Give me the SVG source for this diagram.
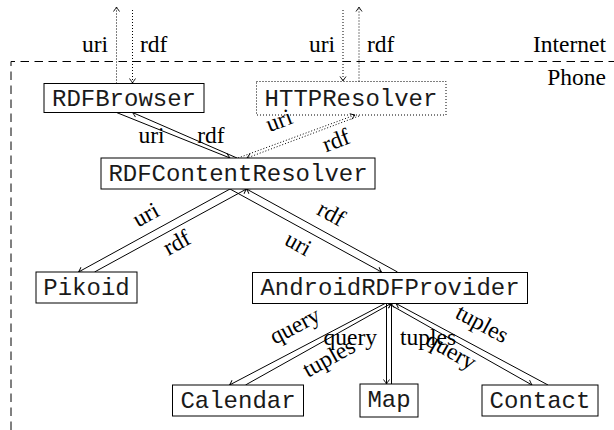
<svg xmlns="http://www.w3.org/2000/svg" width="614" height="430" viewBox="0 0 614 430">
<style>
.box{fill:#fff;stroke:#000;stroke-width:1}
.dbox{fill:none;stroke:#000;stroke-width:1;stroke-dasharray:1 2}
.mono{font-family:"Liberation Mono","DejaVu Sans Mono",monospace;font-size:24px;fill:#1a1a1a;text-anchor:middle}
.lbl{font-family:"Liberation Serif","DejaVu Serif",serif;font-size:23.5px;fill:#000}
.c{stroke:#000;stroke-width:1;fill:none;marker-end:url(#ah)}
.dot{stroke-dasharray:1 2}
.frame{fill:none;stroke:#000;stroke-width:1;stroke-dasharray:8.5 5.5}
</style>
<defs>
<marker id="ah" markerUnits="userSpaceOnUse" markerWidth="10" markerHeight="10" viewBox="-6 -5 8 10" refX="0" refY="0" orient="auto">
<path d="M-4.5,-3 Q-1.2,-0.6 0,0 Q-1.2,0.6 -4.5,3" fill="none" stroke="#000" stroke-width="0.9"/>
</marker>
</defs>
<rect width="614" height="430" fill="#fff"/>
<g id="frame">
<path class="frame" d="M11,430 V61.5 H614"/>
<text class="lbl" x="606" y="52" text-anchor="end">Internet</text>
<text class="lbl" x="606" y="85" text-anchor="end">Phone</text>
</g>
<g id="connectors">
<path class="c dot" d="M116.5,83.5 V7"/>
<path class="c dot" d="M132.5,10 V83"/>
<path class="c dot" d="M343,10 V81"/>
<path class="c dot" d="M359,81.5 V7"/>
<text class="lbl" x="108" y="52" text-anchor="end">uri</text>
<text class="lbl" x="140" y="52">rdf</text>
<text class="lbl" x="335" y="52" text-anchor="end">uri</text>
<text class="lbl" x="367" y="52">rdf</text>

<path class="c" d="M116.5,112.5 L230,158"/>
<path class="c" d="M237,158 L132.5,112.5"/>
<text class="lbl" x="151.5" y="143" text-anchor="middle">uri</text>
<text class="lbl" x="211" y="143" text-anchor="middle">rdf</text>

<path class="c dot" d="M238,158 L355,115"/>
<path class="c dot" d="M359,116 L247,158"/>
<text class="lbl" text-anchor="middle" transform="translate(280,123) rotate(-21)" y="5">uri</text>
<text class="lbl" text-anchor="middle" transform="translate(337,143) rotate(-21)" y="5">rdf</text>

<path class="c" d="M230,189 L78.5,272"/>
<path class="c" d="M94.5,272 L246.5,189"/>
<text class="lbl" text-anchor="middle" transform="translate(147,217) rotate(-28.7)" y="5">uri</text>
<text class="lbl" text-anchor="middle" transform="translate(178,245) rotate(-28.7)" y="5">rdf</text>

<path class="c" d="M230,189 L381.5,272"/>
<path class="c" d="M397.5,272 L246.5,189"/>
<text class="lbl" text-anchor="middle" transform="translate(297,246) rotate(28.7)" y="5">uri</text>
<text class="lbl" text-anchor="middle" transform="translate(330,216) rotate(28.7)" y="5">rdf</text>

<path class="c" d="M385,303.5 L229.5,385"/>
<path class="c" d="M245.5,385 L391,303.5"/>
<text class="lbl" text-anchor="middle" transform="translate(296,328) rotate(-27.7)" y="5">query</text>
<text class="lbl" text-anchor="middle" transform="translate(330,360) rotate(-29)" y="5">tuples</text>

<path class="c" d="M386.5,303.5 V384"/>
<path class="c" d="M391.5,384 V303.5"/>
<text class="lbl" x="377" y="345" text-anchor="end">query</text>
<text class="lbl" x="400" y="345">tuples</text>

<path class="c" d="M388,303.5 L532,385"/>
<path class="c" d="M548,385 L396,303.5"/>
<text class="lbl" text-anchor="middle" transform="translate(450,353) rotate(29.5)" y="5">query</text>
<text class="lbl" text-anchor="middle" transform="translate(481,326) rotate(28.2)" y="5">tuples</text>
</g>
<g id="RDFBrowser">
<rect class="box" x="44" y="83.5" width="160" height="29"/>
<text class="mono" x="124" y="105.5">RDFBrowser</text>
</g>
<g id="HTTPResolver">
<rect class="dbox" x="256.5" y="81.5" width="189.5" height="33.5"/>
<text class="mono" x="351" y="105.5">HTTPResolver</text>
</g>
<g id="RDFContentResolver">
<rect class="box" x="101" y="158" width="274" height="31"/>
<text class="mono" x="238" y="180.5">RDFContentResolver</text>
</g>
<g id="Pikoid">
<rect class="box" x="36" y="272" width="101" height="31"/>
<text class="mono" x="86.5" y="294.5">Pikoid</text>
</g>
<g id="AndroidRDFProvider">
<rect class="box" x="252.5" y="272.5" width="275" height="31"/>
<text class="mono" x="390" y="295">AndroidRDFProvider</text>
</g>
<g id="Calendar">
<rect class="box" x="172.5" y="385" width="131" height="31"/>
<text class="mono" x="238" y="407.5">Calendar</text>
</g>
<g id="Map">
<rect class="box" x="360" y="384" width="58" height="33"/>
<text class="mono" x="389" y="406.5">Map</text>
</g>
<g id="Contact">
<rect class="box" x="482" y="385" width="116" height="31"/>
<text class="mono" x="540" y="407.5">Contact</text>
</g>
</svg>
